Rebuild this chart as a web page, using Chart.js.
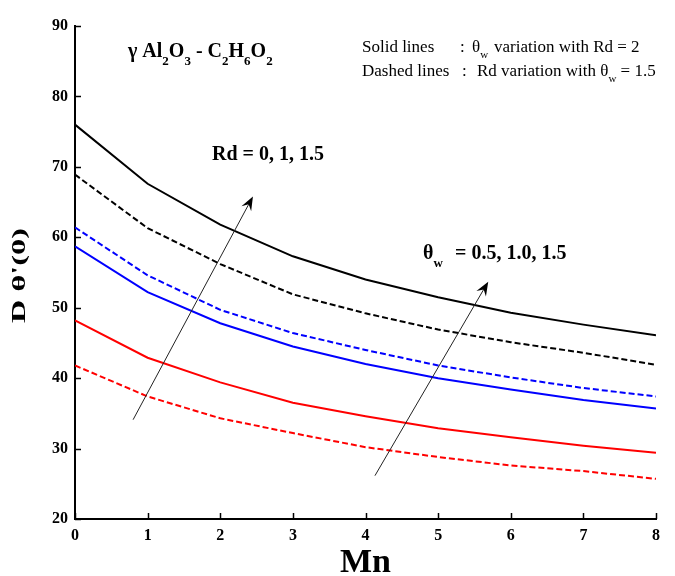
<!DOCTYPE html>
<html>
<head>
<meta charset="utf-8">
<script src="https://cdn.jsdelivr.net/npm/chart.js@4/dist/chart.umd.min.js"></script>
<style>
html,body{margin:0;padding:0;background:#fff;}
#wrap{width:675px;height:576px;position:relative;}
</style>
</head>
<body>
<div id="wrap"><canvas id="c" width="675" height="576"></canvas></div>
<script>
// ---- data ----
const mnValues = [0, 1, 2, 3, 4, 5, 6, 7, 8];
const blackSolid  = [76.0, 67.6, 61.8, 57.3, 54.0, 51.5, 49.3, 47.6, 46.1];
const blackDashed = [68.9, 61.3, 56.2, 51.9, 49.2, 46.9, 45.1, 43.6, 41.9];
const blueDashed  = [61.4, 54.6, 49.7, 46.4, 44.0, 41.8, 40.1, 38.6, 37.4];
const blueSolid   = [58.7, 52.2, 47.8, 44.5, 42.0, 40.0, 38.4, 36.9, 35.7];
const redSolid    = [48.2, 42.9, 39.4, 36.5, 34.6, 32.9, 31.6, 30.4, 29.4];
const redDashed   = [41.8, 37.4, 34.3, 32.2, 30.2, 28.8, 27.6, 26.8, 25.7];
const xTickValues = [0, 1, 2, 3, 4, 5, 6, 7, 8];
const yTickValues = [20, 30, 40, 50, 60, 70, 80, 90];
// arrows (data coordinates: start -> end)
const rdArrowX = [0.80, 2.45];
const rdArrowY = [34.1, 65.8];
const thArrowX = [4.13, 5.69];
const thArrowY = [26.15, 53.7];

const SERIF = '"Liberation Serif", "Times New Roman", serif';

function pts(ys){ return mnValues.map((m,i)=>({x:m, y:ys[i]})); }
function ds(ys, color, dashed){
  return {data: pts(ys), borderColor: color, borderWidth: 2, borderDash: dashed ? [6,3] : [],
          pointRadius: 0, tension: 0, fill: false};
}

function rich(ctx, x, y, segs, size, bold){
  segs.forEach(s=>{
    const fs = s.sub ? Math.round(size*0.65) : size;
    ctx.font = (bold ? 'bold ' : '') + fs + 'px ' + SERIF;
    ctx.fillText(s.t, s.x !== undefined ? s.x : x, y + (s.sub ? size*0.38 : 0));
    x = (s.x !== undefined ? s.x : x) + ctx.measureText(s.t).width;
  });
}

function arrow(ctx, x1, y1, x2, y2){
  const ang = Math.atan2(y2-y1, x2-x1);
  const L = 14, W = 5.5;
  ctx.beginPath();
  ctx.moveTo(x1, y1);
  ctx.lineTo(x2 - Math.cos(ang)*8, y2 - Math.sin(ang)*8);
  ctx.strokeStyle = '#222'; ctx.lineWidth = 1; ctx.stroke();
  ctx.beginPath();
  ctx.moveTo(x2, y2);
  ctx.lineTo(x2 - L*Math.cos(ang) + W*Math.sin(ang), y2 - L*Math.sin(ang) - W*Math.cos(ang));
  ctx.lineTo(x2 - 9*Math.cos(ang), y2 - 9*Math.sin(ang));
  ctx.lineTo(x2 - L*Math.cos(ang) - W*Math.sin(ang), y2 - L*Math.sin(ang) + W*Math.cos(ang));
  ctx.closePath();
  ctx.fillStyle = '#000'; ctx.fill();
}

const annot = {
  id: 'annot',
  afterDraw(chart){
    const ctx = chart.ctx, xs = chart.scales.x, ys = chart.scales.y, ca = chart.chartArea;
    ctx.save();
    // inner tick marks
    ctx.strokeStyle = '#000'; ctx.lineWidth = 1.5;
    xs.ticks.forEach(t=>{
      const px = Math.round(xs.getPixelForValue(t.value)) + 0.5;
      ctx.beginPath(); ctx.moveTo(px, ca.bottom); ctx.lineTo(px, ca.bottom - 6); ctx.stroke();
    });
    ys.ticks.forEach(t=>{
      const py = Math.round(ys.getPixelForValue(t.value)) + 0.5;
      ctx.beginPath(); ctx.moveTo(ca.left, py); ctx.lineTo(ca.left + 6, py); ctx.stroke();
    });
    // arrows
    arrow(ctx, xs.getPixelForValue(rdArrowX[0]), ys.getPixelForValue(rdArrowY[0]),
               xs.getPixelForValue(rdArrowX[1]), ys.getPixelForValue(rdArrowY[1]));
    arrow(ctx, xs.getPixelForValue(thArrowX[0]), ys.getPixelForValue(thArrowY[0]),
               xs.getPixelForValue(thArrowX[1]), ys.getPixelForValue(thArrowY[1]));
    // texts
    ctx.fillStyle = '#000';
    ctx.textBaseline = 'alphabetic';
    ctx.textAlign = 'left';
    rich(ctx, 128, 57, [{t:'γ Al'},{t:'2',sub:1},{t:'O'},{t:'3',sub:1},{t:' - C'},{t:'2',sub:1},{t:'H'},{t:'6',sub:1},{t:'O'},{t:'2',sub:1}], 20, true);
    rich(ctx, 212, 160, [{t:'Rd = 0, 1, 1.5'}], 20, true);
    rich(ctx, 423, 259, [{t:'θ'},{t:'w',sub:1},{t:'= 0.5, 1.0, 1.5', x:455}], 20, true);
    rich(ctx, 362, 52, [{t:'Solid lines'},{t:':', x:460},{t:'θ', x:472},{t:'w',sub:1},{t:'variation with Rd = 2', x:494}], 17, false);
    rich(ctx, 362, 76, [{t:'Dashed lines'},{t:':', x:462},{t:'Rd variation with θ', x:477},{t:'w',sub:1},{t:' = 1.5'}], 17, false);
    // y-axis title (stretched along its direction)
    ctx.save();
    ctx.translate(25, 275.5);
    ctx.rotate(-Math.PI/2);
    ctx.scale(1.7, 1);
    ctx.font = 'bold 19px ' + SERIF;
    ctx.textAlign = 'center';
    ctx.fillText("D θ'(0)", 0, 0);
    ctx.restore();
    ctx.restore();
  }
};

new Chart(document.getElementById('c'), {
  type: 'line',
  data: {
    datasets: [
      ds(blackSolid, '#000000', false),
      ds(blackDashed, '#000000', true),
      ds(blueDashed, '#0000ff', true),
      ds(blueSolid, '#0000ff', false),
      ds(redSolid, '#ff0000', false),
      ds(redDashed, '#ff0000', true)
    ]
  },
  options: {
    responsive: false,
    animation: false,
    layout: {padding: {left: 0, right: 19, top: 26, bottom: 0}},
    plugins: {legend: {display: false}, tooltip: {enabled: false}},
    scales: {
      x: {
        type: 'linear', min: 0, max: 8,
        afterBuildTicks: s => { s.ticks = xTickValues.map(v=>({value:v})); },
        grid: {display: false, drawTicks: false},
        border: {display: true, color: '#000', width: 2},
        ticks: {color: '#000', padding: 7, font: {family: SERIF, size: 16, weight: 'bold'}, maxRotation: 0},
        title: {display: true, text: 'Mn', color: '#000', font: {family: SERIF, size: 34, weight: 'bold', lineHeight: 1}, padding: {top: 0, bottom: -4}},
        afterFit: s => { s.height = 57; }
      },
      y: {
        type: 'linear', min: 20, max: 90,
        afterBuildTicks: s => { s.ticks = yTickValues.map(v=>({value:v})); },
        grid: {display: false, drawTicks: false},
        border: {display: true, color: '#000', width: 2},
        ticks: {color: '#000', padding: 7, font: {family: SERIF, size: 16, weight: 'bold'}},
        afterFit: s => { s.width = 75; }
      }
    }
  },
  plugins: [annot]
});
</script>
</body>
</html>
